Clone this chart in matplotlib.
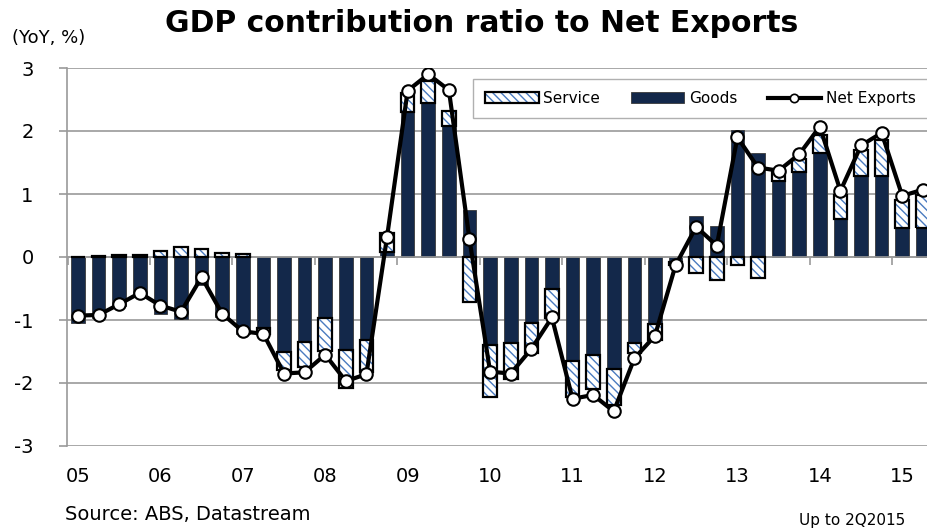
import matplotlib
matplotlib.use("Agg")
import matplotlib.pyplot as plt
import matplotlib.transforms as mtransforms
from matplotlib.patches import Patch
from matplotlib.lines import Line2D
import numpy as np

# quarterly data, 1Q2005 - 2Q2015 (YoY contribution, %)
goods = [-1.05, -0.97, -0.78, -0.60, -0.90, -0.98, -0.44, -0.95, -1.22, -1.13,
         -1.50, -1.35, -0.97, -1.48, -1.32, 0.08, 2.30, 2.44, 2.08, 0.75,
         -1.40, -1.37, -1.04, -0.51, -1.65, -1.56, -1.77, -1.37, -1.06, -0.08,
         0.65, 0.49, 2.02, 1.65, 1.21, 1.35, 1.65, 0.61, 1.28, 1.28, 0.46, 0.46]
service = [0.00, 0.02, 0.03, 0.03, 0.10, 0.16, 0.12, 0.07, 0.04, -0.09,
           -0.30, -0.40, -0.52, -0.60, -0.50, 0.30, 0.30, 0.36, 0.24, -0.71,
           -0.82, -0.56, -0.49, -0.46, -0.57, -0.53, -0.58, -0.16, -0.25, -0.05,
           -0.26, -0.37, -0.13, -0.34, 0.14, 0.20, 0.29, 0.37, 0.42, 0.58, 0.44, 0.52]
net_exports = [-0.93, -0.92, -0.75, -0.57, -0.77, -0.87, -0.32, -0.90, -1.18, -1.22,
               -1.85, -1.83, -1.55, -1.97, -1.86, 0.32, 2.64, 2.90, 2.65, 0.28,
               -1.82, -1.85, -1.46, -0.96, -2.25, -2.19, -2.45, -1.61, -1.25, -0.13,
               0.48, 0.18, 1.90, 1.42, 1.37, 1.63, 2.07, 1.05, 1.77, 1.97, 0.97, 1.07]
year_labels = ["05", "06", "07", "08", "09", "10", "11", "12", "13", "14", "15"]
y_ticks = [-3, -2, -1, 0, 1, 2, 3]

NAVY = "#13284a"
HATCH_BLUE = "#4a7bc0"
GRID = "#9a9a9a"

plt.rcParams['font.family'] = ['DejaVu Sans']
plt.rcParams['hatch.linewidth'] = 1.0

x = np.arange(len(goods))
goods = np.array(goods)
service = np.array(service)
# service stacks on goods when signs agree, otherwise starts from zero
svc_bottom = np.where(np.sign(goods) == np.sign(service), goods, 0.0)

fig = plt.figure(figsize=(9.27, 5.30), dpi=100)
ax = fig.add_axes([67 / 927, 84 / 530, 1 - 67 / 927, 378 / 530])

w = 0.66
ax.bar(x, goods, width=w, color=NAVY, edgecolor="#3a3a3a", linewidth=0.6, zorder=2)
ax.bar(x, service, width=w, bottom=svc_bottom, color="white", edgecolor=HATCH_BLUE,
       hatch="\\\\\\\\", linewidth=0, zorder=2)
ax.bar(x, service, width=w, bottom=svc_bottom, fill=False, edgecolor="black",
       linewidth=1.6, zorder=3)
ax.plot(x, net_exports, color="black", linewidth=3, marker="o", markersize=9,
        markerfacecolor="white", markeredgecolor="black", markeredgewidth=1.5, zorder=4)

ax.set_ylim(-3, 3)
ax.set_xlim(-0.53, 41.2)
ax.set_yticks(y_ticks)
ax.set_yticklabels([str(t) for t in y_ticks], fontsize=14)
ax.grid(axis="y", color=GRID, linewidth=1.2, zorder=0)
ax.set_axisbelow(True)
ax.tick_params(axis="y", length=6, width=1.2, color=GRID, pad=18)

for s in ["top", "right"]:
    ax.spines[s].set_visible(False)
ax.spines["left"].set_color(GRID)
ax.spines["left"].set_linewidth(1.2)
ax.spines["bottom"].set_position(("data", 0))
ax.spines["bottom"].set_color(GRID)
ax.spines["bottom"].set_linewidth(1.2)

# year boundary ticks on the zero line, labels at the bottom
ax.set_xticks(np.arange(len(year_labels)) * 4 - 0.5)
ax.set_xticklabels([])
ax.tick_params(axis="x", length=6, width=1.2, color=GRID, direction="out")
trans = mtransforms.blended_transform_factory(ax.transData, fig.transFigure)
for i, lab in enumerate(year_labels):
    ax.text(i * 4, 0.1, lab, transform=trans, ha="center", va="center", fontsize=14)

handles = [(Patch(facecolor="white", edgecolor=HATCH_BLUE, hatch="\\\\\\\\", linewidth=0),
            Patch(fill=False, edgecolor="black", linewidth=1.6)),
           Patch(facecolor=NAVY, edgecolor="#3a3a3a", linewidth=0.6),
           Line2D([0], [0], color="black", linewidth=3, marker="o", markersize=6,
                  markerfacecolor="white", markeredgecolor="black", markeredgewidth=1.2)]
leg = ax.legend(handles, ["Service", "Goods", "Net Exports"], ncol=3,
                loc="upper left", bbox_to_anchor=(0.472, 0.971), fontsize=11,
                frameon=True, fancybox=False, edgecolor="#b0b0b0", framealpha=1,
                handlelength=3.5, handleheight=0.7, handletextpad=0.3,
                columnspacing=2.0, borderpad=0.8, borderaxespad=0, numpoints=1)
leg.get_frame().set_linewidth(1.0)
leg.set_zorder(5)

fig.text(0.52, 0.956, "GDP contribution ratio to Net Exports", ha="center", va="center",
         fontsize=21.5, fontweight="bold")
fig.text(0.013, 0.928, "(YoY, %)", ha="left", va="center", fontsize=13)
fig.text(0.070, 0.030, "Source: ABS, Datastream", ha="left", va="center", fontsize=14)
fig.text(0.976, 0.017, "Up to 2Q2015", ha="right", va="center", fontsize=11)

fig.savefig("out.png", dpi=100)
